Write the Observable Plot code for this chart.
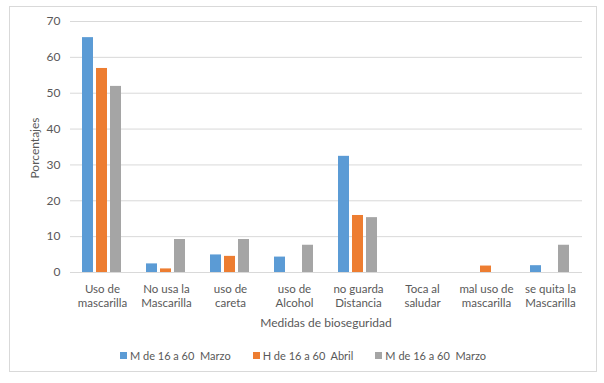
<!DOCTYPE html>
<html>
<head>
<meta charset="utf-8">
<script src="https://cdn.jsdelivr.net/npm/d3@7"></script>
<script src="https://cdn.jsdelivr.net/npm/@observablehq/plot@0.6"></script>
<style>
  body { margin: 0; background: #fff; font-family: Lato, sans-serif; }
  #box { position: absolute; left: 9px; top: 6px; width: 588px; height: 366px; box-sizing: border-box; border: 1px solid #d9d9d9; }
  #chart { position: absolute; left: 0; top: 0; }
  .lbl { position: absolute; color: #595959; font-size: 12px; white-space: nowrap; }
  #ylab { left: 24px; top: 141px; transform: translate(-50%, -50%) rotate(-90deg); }
  #xlab { left: 316px; top: 315px; transform: translate(-50%, -50%); }
  #legend { position: absolute; left: 0; width: 586px; top: 342px; display: flex; justify-content: center; gap: 22px; font-size: 11px; color: #595959; }
  #legend .it { display: flex; align-items: center; white-space: pre; }
  #legend .sw { width: 7px; height: 7px; margin-right: 3px; }
</style>
</head>
<body>
<div id="box">
  <div id="chart"></div>
  <div class="lbl" id="ylab">Porcentajes</div>
  <div class="lbl" id="xlab">Medidas de bioseguridad</div>
  <div id="legend"></div>
</div>
<script>
const categories = [
  "Uso de\nmascarilla",
  "No usa la\nMascarilla",
  "uso de\ncareta",
  "uso de\nAlcohol",
  "no guarda\nDistancia",
  "Toca al\nsaludar",
  "mal uso de\nmascarilla",
  "se quita la\nMascarilla"
];
const seriesNames = ["M de 16 a 60  Marzo", "H de 16 a 60  Abril", "M de 16 a 60  Marzo "];
const seriesLabels = ["M de 16 a 60  Marzo", "H de 16 a 60  Abril", "M de 16 a 60  Marzo"];
const seriesColors = ["#5B9BD5", "#ED7D31", "#A5A5A5"];
const mMarzo1 = [65.5, 2.4, 4.9, 4.3, 32.4, 0, 0, 1.9];
const hAbril  = [56.9, 1.0, 4.5, 0, 15.9, 0, 1.8, 0];
const mMarzo2 = [51.9, 9.2, 9.2, 7.6, 15.3, 0, 0, 7.6];
const yTicks = [0, 10, 20, 30, 40, 50, 60, 70];

const allSeries = [mMarzo1, hAbril, mMarzo2];
const data = [];
categories.forEach((c, i) => {
  allSeries.forEach((s, j) => {
    data.push({cat: c, series: seriesNames[j], value: s[i]});
  });
});

const chart = Plot.plot({
  width: 586,
  height: 330,
  marginLeft: 59,
  marginRight: 13,
  marginTop: 14,
  marginBottom: 65,
  style: {fontFamily: "Lato, sans-serif", color: "#595959", background: "transparent"},
  fx: {domain: categories, paddingInner: 0, paddingOuter: 0, label: null, axis: null},
  x: {domain: seriesNames, paddingInner: 0.2, paddingOuter: 0.85, axis: null},
  y: {domain: [0, 70], axis: null},
  color: {domain: seriesNames, range: seriesColors},
  marks: [
    Plot.gridY(yTicks, {stroke: "#d9d9d9", strokeOpacity: 1, strokeWidth: 1}),
    Plot.axisY(yTicks, {tickSize: 0, tickPadding: 10, fontSize: 12, label: null, fill: "#595959"}),
    Plot.axisFx({anchor: "bottom", tickSize: 0, tickPadding: 10, fontSize: 11.5, lineHeight: 1.25, label: null, fill: "#595959"}),
    Plot.barY(data, {fx: "cat", x: "series", y: "value", fill: "series"}),
    Plot.ruleY([0], {stroke: "#d9d9d9", strokeWidth: 1})
  ]
});
document.getElementById("chart").appendChild(chart);

const legend = document.getElementById("legend");
seriesLabels.forEach((name, j) => {
  const it = document.createElement("div");
  it.className = "it";
  const sw = document.createElement("span");
  sw.className = "sw";
  sw.style.background = seriesColors[j];
  const tx = document.createElement("span");
  tx.textContent = name;
  it.appendChild(sw);
  it.appendChild(tx);
  legend.appendChild(it);
});
</script>
</body>
</html>
